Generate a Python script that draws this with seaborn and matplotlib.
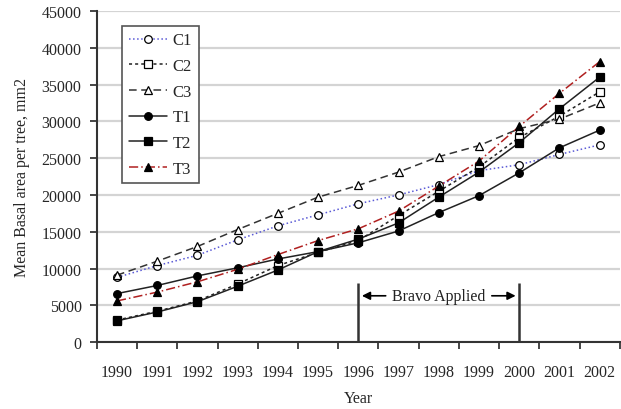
import numpy as np
import pandas as pd
import matplotlib
matplotlib.use("Agg")
import matplotlib.pyplot as plt
import seaborn as sns

years = ["1990", "1991", "1992", "1993", "1994", "1995", "1996",
         "1997", "1998", "1999", "2000", "2001", "2002"]

c1 = [8800, 10400, 11800, 13900, 15800, 17300, 18800, 20000, 21400, 23300, 24100, 25500, 26800]
c2 = [3000, 4200, 5600, 7900, 10400, 12200, 13800, 17200, 20500, 23800, 27800, 30700, 34000]
c3 = [9100, 11000, 13000, 15300, 17500, 19700, 21300, 23100, 25200, 26700, 29000, 30300, 32500]
t1 = [6600, 7700, 9000, 10100, 11300, 12300, 13500, 15100, 17600, 19900, 23000, 26400, 28800]
t2 = [2900, 4100, 5500, 7600, 9800, 12300, 14000, 16200, 19700, 23100, 27100, 31700, 36000]
t3 = [5600, 6800, 8200, 9900, 11900, 13800, 15400, 17800, 21200, 24600, 29300, 33800, 38100]

series = {"C1": c1, "C2": c2, "C3": c3, "T1": t1, "T2": t2, "T3": t3}

# line, marker, marker face, line colour
styles = {
    "C1": dict(ls=":", marker="o", mfc="white", color="#5a5ad6"),
    "C2": dict(ls=(0, (2, 2)), marker="s", mfc="white", color="#222222"),
    "C3": dict(ls=(0, (5, 3)), marker="^", mfc="white", color="#333333"),
    "T1": dict(ls="-", marker="o", mfc="black", color="#222222"),
    "T2": dict(ls="-", marker="s", mfc="black", color="#222222"),
    "T3": dict(ls=(0, (6, 2, 1, 2)), marker="^", mfc="black", color="#b02020"),
}

rows = []
for name, vals in series.items():
    for i, v in enumerate(vals):
        rows.append({"series": name, "pos": i, "value": v})
df = pd.DataFrame(rows)

sns.set_style("white")
plt.rcParams["font.family"] = ["Liberation Serif", "DejaVu Serif"]

fig = plt.figure(figsize=(6.21, 4.10), dpi=100)
ax = fig.add_axes([0.156, 0.163, 0.842, 0.808])

for name in series:
    st = styles[name]
    sub = df[df["series"] == name]
    sns.lineplot(data=sub, x="pos", y="value", ax=ax, label=name,
                 color=st["color"], linestyle=st["ls"], linewidth=1.1,
                 marker=st["marker"], markersize=5.5, markerfacecolor=st["mfc"],
                 markeredgecolor="black", markeredgewidth=0.9)

ax.set_xlim(-0.5, len(years) - 0.5)
ax.set_ylim(0, 45000)
ax.set_yticks(np.arange(0, 45001, 5000))
ax.set_xticks(range(len(years)))
ax.set_xticklabels(years)
ax.set_xticks(np.arange(-0.5, len(years), 1.0), minor=True)
ax.tick_params(axis="x", which="major", length=0, pad=16, labelsize=11.5)
ax.tick_params(axis="x", which="minor", length=5, width=1.2, direction="out", bottom=True)
ax.tick_params(axis="y", length=5, width=1.2, direction="out", left=True, labelsize=11.5, pad=6)

ax.grid(axis="y", color="#d4d4d4", linewidth=1.6)
ax.set_axisbelow(True)
for s in ["top", "right"]:
    ax.spines[s].set_visible(False)
for s in ["left", "bottom"]:
    ax.spines[s].set_color("#333333")
    ax.spines[s].set_linewidth(1.5)

ax.set_xlabel("Year", fontsize=11.5, labelpad=7)
ax.set_ylabel("Mean Basal area per tree, mm2", fontsize=11.5, labelpad=8)

# Bravo application period
ax.vlines([6, 10], 0, 8000, color="#333333", linewidth=1.8)
ax.text(8, 6300, "Bravo Applied", ha="center", va="center", fontsize=11.5, color="#222222")
ax.annotate("", xy=(6.02, 6300), xytext=(6.75, 6300),
            arrowprops=dict(arrowstyle="-|>", color="black", lw=1.2, mutation_scale=12))
ax.annotate("", xy=(9.98, 6300), xytext=(9.25, 6300),
            arrowprops=dict(arrowstyle="-|>", color="black", lw=1.2, mutation_scale=12))

leg = ax.legend(loc="upper left", bbox_to_anchor=(0.048, 0.955), borderaxespad=0,
                fontsize=12, handlelength=2.3, handletextpad=0.35,
                labelspacing=0.58, borderpad=0.4,
                fancybox=False, framealpha=1, edgecolor="#555555")
leg.get_frame().set_linewidth(1.2)

fig.savefig("out.png", dpi=100)
